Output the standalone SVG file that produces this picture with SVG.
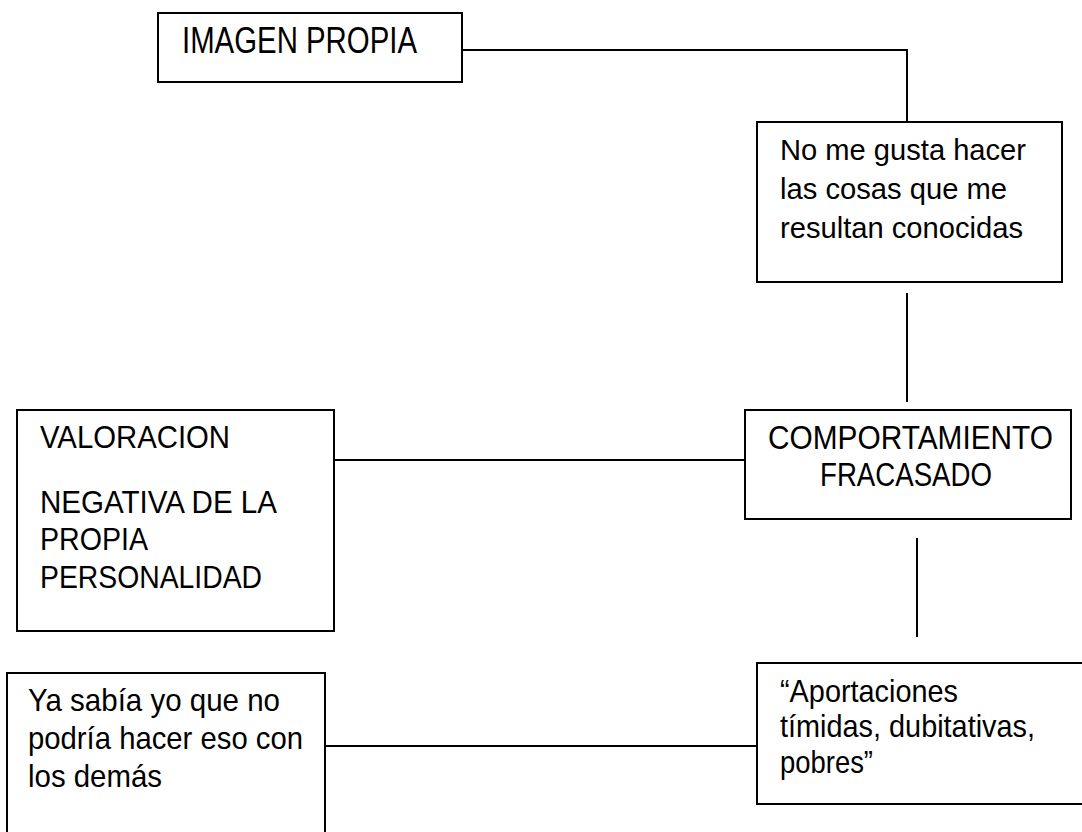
<svg xmlns="http://www.w3.org/2000/svg" width="1082" height="832" viewBox="0 0 1082 832">
<style>
.box{fill:#fff;stroke:#000;stroke-width:2}
.ln{fill:none;stroke:#000;stroke-width:2}
text{font-family:"Liberation Sans",Arial,sans-serif;fill:#000}
.t30{font-size:30px}
.t32{font-size:32px}
.t33{font-size:33px}
.t36{font-size:36px}
</style>
<rect width="1082" height="832" fill="#fff"/>
<g id="connectors">
<polyline class="ln" points="462,50 907,50 907,122"/>
<line class="ln" x1="907" y1="293" x2="907" y2="402"/>
<line class="ln" x1="335" y1="460" x2="745" y2="460"/>
<line class="ln" x1="917" y1="538" x2="917" y2="637"/>
<line class="ln" x1="325" y1="746" x2="757" y2="746"/>
</g>
<g id="imagen-propia">
<rect class="box" x="158" y="13" width="304" height="69"/>
<text class="t36" x="182" y="53" textLength="235" lengthAdjust="spacingAndGlyphs">IMAGEN PROPIA</text>
</g>
<g id="no-me-gusta">
<rect class="box" x="757" y="122" width="305" height="160"/>
<text class="t30" x="780" y="160" textLength="246" lengthAdjust="spacingAndGlyphs">No me gusta hacer</text>
<text class="t30" x="780" y="199" textLength="227" lengthAdjust="spacingAndGlyphs">las cosas que me</text>
<text class="t30" x="780" y="238" textLength="243" lengthAdjust="spacingAndGlyphs">resultan conocidas</text>
</g>
<g id="comportamiento">
<rect class="box" x="745" y="410" width="326" height="109"/>
<text class="t33" x="768" y="449" textLength="285" lengthAdjust="spacingAndGlyphs">COMPORTAMIENTO</text>
<text class="t33" x="820" y="486" textLength="172" lengthAdjust="spacingAndGlyphs">FRACASADO</text>
</g>
<g id="valoracion">
<rect class="box" x="17" y="410" width="317" height="221"/>
<text class="t32" x="40" y="448" textLength="190" lengthAdjust="spacingAndGlyphs">VALORACION</text>
<text class="t32" x="40" y="513" textLength="237" lengthAdjust="spacingAndGlyphs">NEGATIVA DE LA</text>
<text class="t32" x="40" y="550" textLength="108" lengthAdjust="spacingAndGlyphs">PROPIA</text>
<text class="t32" x="40" y="588" textLength="222" lengthAdjust="spacingAndGlyphs">PERSONALIDAD</text>
</g>
<g id="ya-sabia">
<rect class="box" x="7" y="673" width="318" height="175"/>
<text class="t32" x="28" y="711" textLength="252" lengthAdjust="spacingAndGlyphs">Ya sabía yo que no</text>
<text class="t32" x="28" y="749" textLength="275" lengthAdjust="spacingAndGlyphs">podría hacer eso con</text>
<text class="t32" x="28" y="787" textLength="134" lengthAdjust="spacingAndGlyphs">los demás</text>
</g>
<g id="aportaciones">
<rect class="box" x="757" y="663" width="340" height="141"/>
<text class="t32" x="780" y="702" textLength="178" lengthAdjust="spacingAndGlyphs">“Aportaciones</text>
<text class="t32" x="780" y="737" textLength="255" lengthAdjust="spacingAndGlyphs">tímidas, dubitativas,</text>
<text class="t32" x="780" y="773" textLength="93" lengthAdjust="spacingAndGlyphs">pobres”</text>
</g>
</svg>
